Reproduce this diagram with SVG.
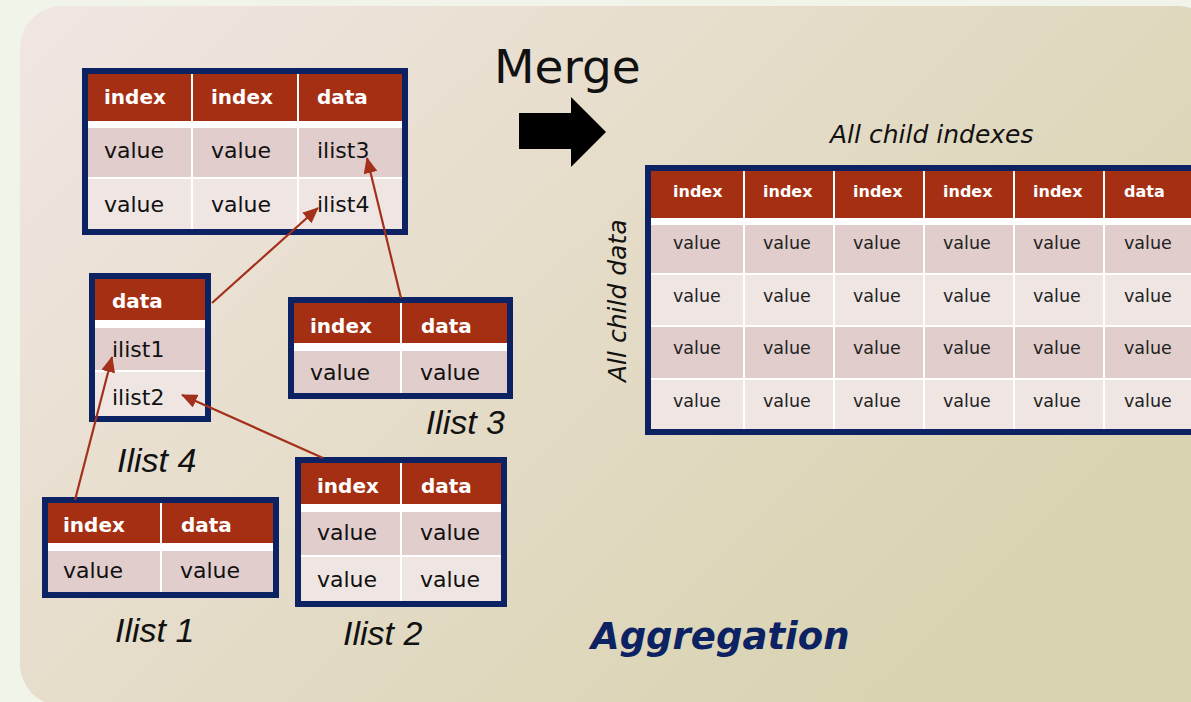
<svg xmlns="http://www.w3.org/2000/svg" width="1191" height="702" viewBox="0 0 1191 702">
  <defs>
    <linearGradient id="bg" x1="0" y1="0" x2="1" y2="0.6">
      <stop offset="0" stop-color="#f1e6e3"/>
      <stop offset="0.45" stop-color="#e6ddcb"/>
      <stop offset="1" stop-color="#d8d3b0"/>
    </linearGradient>
    <marker id="ah" markerWidth="16" markerHeight="14" refX="15" refY="7" orient="auto" markerUnits="userSpaceOnUse">
      <path d="M0,0 L16,7 L0,14 Z" fill="#a3301a"/>
    </marker>
  </defs>
  <style>
    .nv{fill:#0c2263}
    .wh{fill:#ffffff}
    .hd{fill:#a52f12}
    .r1{fill:#e1cdcc}
    .r2{fill:#efe6e4}
    .ht{font-family:"DejaVu Sans",sans-serif;font-weight:bold;font-size:20px;fill:#ffffff}
    .vt{font-family:"DejaVu Sans",sans-serif;font-size:22px;fill:#111111}
    .hs{font-family:"DejaVu Sans",sans-serif;font-weight:bold;font-size:16px;fill:#ffffff}
    .vs{font-family:"DejaVu Sans",sans-serif;font-size:17.5px;fill:#222222}
    .lb{font-family:"Liberation Sans",Arial,sans-serif;font-style:italic;font-size:34px;fill:#111111}
    .it{font-family:"DejaVu Sans",sans-serif;font-style:italic;font-size:25px;fill:#111111}
    .cn{stroke:#a3301a;stroke-width:2.2;fill:none;marker-end:url(#ah)}
  </style>
  <rect width="1191" height="702" fill="#f1f4e9"/>
  <rect x="20" y="6" width="1200" height="700" rx="42" fill="url(#bg)"/>

  <g id="table-top">
    <rect class="nv" x="82" y="68" width="326" height="167"/>
    <rect class="wh" x="88" y="74" width="314" height="155"/>
    <rect class="hd" x="88" y="74" width="103" height="47"/>
    <rect class="hd" x="193" y="74" width="104" height="47"/>
    <rect class="hd" x="299" y="74" width="103" height="47"/>
    <rect class="r1" x="88" y="128" width="103" height="49"/>
    <rect class="r1" x="193" y="128" width="104" height="49"/>
    <rect class="r1" x="299" y="128" width="103" height="49"/>
    <rect class="r2" x="88" y="179" width="103" height="50"/>
    <rect class="r2" x="193" y="179" width="104" height="50"/>
    <rect class="r2" x="299" y="179" width="103" height="50"/>
    <text class="ht" x="104" y="104">index</text>
    <text class="ht" x="211" y="104">index</text>
    <text class="ht" x="317" y="104">data</text>
    <text class="vt" x="104" y="158">value</text>
    <text class="vt" x="211" y="158">value</text>
    <text class="vt" x="317" y="158">ilist3</text>
    <text class="vt" x="104" y="212">value</text>
    <text class="vt" x="211" y="212">value</text>
    <text class="vt" x="317" y="212">ilist4</text>
  </g>

  <g id="ilist4">
    <rect class="nv" x="89" y="273" width="122" height="149"/>
    <rect class="wh" x="95" y="279" width="110" height="137"/>
    <rect class="hd" x="95" y="279" width="110" height="41"/>
    <rect class="r1" x="95" y="328" width="110" height="42"/>
    <rect class="r2" x="95" y="372" width="110" height="44"/>
    <text class="ht" x="112" y="308">data</text>
    <text class="vt" x="112" y="357">ilist1</text>
    <text class="vt" x="112" y="405">ilist2</text>
    <text class="lb" x="117" y="472">Ilist 4</text>
  </g>

  <g id="ilist3">
    <rect class="nv" x="288" y="297" width="225" height="102"/>
    <rect class="wh" x="294" y="303" width="213" height="90"/>
    <rect class="hd" x="294" y="303" width="106" height="40"/>
    <rect class="hd" x="402" y="303" width="105" height="40"/>
    <rect class="r1" x="294" y="351" width="106" height="42"/>
    <rect class="r1" x="402" y="351" width="105" height="42"/>
    <text class="ht" x="310" y="333">index</text>
    <text class="ht" x="421" y="333">data</text>
    <text class="vt" x="310" y="380">value</text>
    <text class="vt" x="420" y="380">value</text>
    <text class="lb" x="505" y="434" text-anchor="end">Ilist 3</text>
  </g>

  <g id="ilist1">
    <rect class="nv" x="42" y="497" width="237" height="101"/>
    <rect class="wh" x="48" y="503" width="225" height="89"/>
    <rect class="hd" x="48" y="503" width="112" height="40"/>
    <rect class="hd" x="162" y="503" width="111" height="40"/>
    <rect class="r1" x="48" y="551" width="112" height="41"/>
    <rect class="r1" x="162" y="551" width="111" height="41"/>
    <text class="ht" x="63" y="532">index</text>
    <text class="ht" x="181" y="532">data</text>
    <text class="vt" x="63" y="578">value</text>
    <text class="vt" x="180" y="578">value</text>
    <text class="lb" x="115" y="642">Ilist 1</text>
  </g>

  <g id="ilist2">
    <rect class="nv" x="295" y="457" width="212" height="150"/>
    <rect class="wh" x="301" y="463" width="200" height="138"/>
    <rect class="hd" x="301" y="463" width="99" height="41"/>
    <rect class="hd" x="402" y="463" width="99" height="41"/>
    <rect class="r1" x="301" y="512" width="99" height="43"/>
    <rect class="r1" x="402" y="512" width="99" height="43"/>
    <rect class="r2" x="301" y="557" width="99" height="44"/>
    <rect class="r2" x="402" y="557" width="99" height="44"/>
    <text class="ht" x="317" y="493">index</text>
    <text class="ht" x="421" y="493">data</text>
    <text class="vt" x="317" y="540">value</text>
    <text class="vt" x="420" y="540">value</text>
    <text class="vt" x="317" y="587">value</text>
    <text class="vt" x="420" y="587">value</text>
    <text class="lb" x="343" y="645">Ilist 2</text>
  </g>

  <g id="merge">
    <text x="494" y="83" font-family="DejaVu Sans, sans-serif" font-size="47" fill="#111111">Merge</text>
    <path d="M519,113 L571,113 L571,97 L606,132 L571,167 L571,149 L519,149 Z" fill="#000000"/>
  </g>

  <g id="merged-table">
    <text class="it" x="830" y="143">All child indexes</text>
    <text class="it" transform="translate(626,382) rotate(-90)">All child data</text>
    <rect class="nv" x="645" y="165" width="560" height="270"/>
    <rect class="wh" x="651" y="171" width="560" height="258"/>
    <g class="hd">
      <rect x="651" y="171" width="92" height="47"/>
      <rect x="745" y="171" width="88" height="47"/>
      <rect x="835" y="171" width="88" height="47"/>
      <rect x="925" y="171" width="88" height="47"/>
      <rect x="1015" y="171" width="88" height="47"/>
      <rect x="1105" y="171" width="100" height="47"/>
    </g>
    <g class="r1">
      <rect x="651" y="225" width="92" height="48"/>
      <rect x="745" y="225" width="88" height="48"/>
      <rect x="835" y="225" width="88" height="48"/>
      <rect x="925" y="225" width="88" height="48"/>
      <rect x="1015" y="225" width="88" height="48"/>
      <rect x="1105" y="225" width="100" height="48"/>
      <rect x="651" y="327" width="92" height="51"/>
      <rect x="745" y="327" width="88" height="51"/>
      <rect x="835" y="327" width="88" height="51"/>
      <rect x="925" y="327" width="88" height="51"/>
      <rect x="1015" y="327" width="88" height="51"/>
      <rect x="1105" y="327" width="100" height="51"/>
    </g>
    <g class="r2">
      <rect x="651" y="275" width="92" height="50"/>
      <rect x="745" y="275" width="88" height="50"/>
      <rect x="835" y="275" width="88" height="50"/>
      <rect x="925" y="275" width="88" height="50"/>
      <rect x="1015" y="275" width="88" height="50"/>
      <rect x="1105" y="275" width="100" height="50"/>
      <rect x="651" y="380" width="92" height="49"/>
      <rect x="745" y="380" width="88" height="49"/>
      <rect x="835" y="380" width="88" height="49"/>
      <rect x="925" y="380" width="88" height="49"/>
      <rect x="1015" y="380" width="88" height="49"/>
      <rect x="1105" y="380" width="100" height="49"/>
    </g>
    <g class="hs">
      <text x="673" y="197">index</text>
      <text x="763" y="197">index</text>
      <text x="853" y="197">index</text>
      <text x="943" y="197">index</text>
      <text x="1033" y="197">index</text>
      <text x="1124" y="197">data</text>
    </g>
    <g class="vs">
      <text x="673" y="249">value</text><text x="763" y="249">value</text><text x="853" y="249">value</text><text x="943" y="249">value</text><text x="1033" y="249">value</text><text x="1124" y="249">value</text>
      <text x="673" y="302">value</text><text x="763" y="302">value</text><text x="853" y="302">value</text><text x="943" y="302">value</text><text x="1033" y="302">value</text><text x="1124" y="302">value</text>
      <text x="673" y="354">value</text><text x="763" y="354">value</text><text x="853" y="354">value</text><text x="943" y="354">value</text><text x="1033" y="354">value</text><text x="1124" y="354">value</text>
      <text x="673" y="407">value</text><text x="763" y="407">value</text><text x="853" y="407">value</text><text x="943" y="407">value</text><text x="1033" y="407">value</text><text x="1124" y="407">value</text>
    </g>
  </g>

  <text id="aggregation" x="591" y="649" font-family="DejaVu Sans, sans-serif" font-weight="bold" font-style="italic" font-size="37" fill="#0c2263">Aggregation</text>

  <g id="connectors">
    <line class="cn" x1="212" y1="303" x2="318" y2="208"/>
    <line class="cn" x1="401" y1="298" x2="367" y2="158"/>
    <line class="cn" x1="75" y1="500" x2="112" y2="357"/>
    <line class="cn" x1="323" y1="458" x2="182" y2="395"/>
  </g>
</svg>
